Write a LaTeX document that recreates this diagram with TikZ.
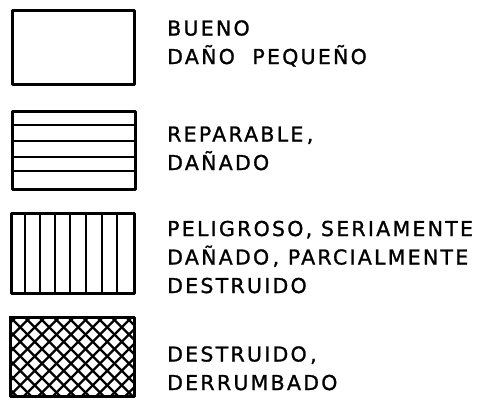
\documentclass[tikz,border=0pt]{standalone}
\usepackage{fontspec}
\setmainfont{DejaVu Sans}[LetterSpace=11,FakeBold=1.2]
\begin{document}
\begin{tikzpicture}[x=1pt,y=-1pt,
  legbox/.style={draw=black,line width=2.8pt,line join=round},
  hatch/.style={draw=black,line width=2pt},
  legtext/.style={anchor=base west,align=left,inner sep=0pt,font=\fontsize{20.5}{28.5}\selectfont}]
\useasboundingbox (0,0) rectangle (487,402);
% box 1
\node[legbox,minimum width=122pt,minimum height=74pt,inner sep=0pt,anchor=north west] (b1) at (11,9) {};
% box 2
\node[legbox,minimum width=123pt,minimum height=78pt,inner sep=0pt,anchor=north west] (b2) at (11,110) {};
\foreach \yy in {125,141,157,171} \draw[hatch] (11,\yy) -- (134,\yy);
% box 3
\node[legbox,minimum width=123pt,minimum height=80pt,inner sep=0pt,anchor=north west] (b3) at (10,212) {};
\foreach \xx in {25,40,55,70,86,102,117} \draw[hatch] (\xx,212) -- (\xx,292);
% box 4
\begin{scope}
\clip (9,316) rectangle (133,395);
\foreach \k in {-6,...,10} {
  \draw[hatch,line width=2.4pt] (9+\k*14.5,316) -- ++(90,90);
  \draw[hatch,line width=2.4pt] (133-\k*14.5,316) -- ++(-90,90);
}
\end{scope}
\node[legbox,minimum width=124pt,minimum height=79pt,inner sep=0pt,anchor=north west] (b4) at (9,316) {};
% texts
\node[legtext] (t1) at (167,64) {BUENO\\DAÑO\ \ PEQUEÑO};
\node[legtext] (t2) at (167,170) {REPARABLE\,,\\DAÑADO};
\node[legtext] (t3) at (167,293) {PELIGROSO, SERIAMENTE\\DAÑADO\,, PARCIALMENTE\\DESTRUIDO};
\node[legtext] (t4) at (167,390) {DESTRUIDO\,,\\DERRUMBADO};
\end{tikzpicture}
\end{document}
